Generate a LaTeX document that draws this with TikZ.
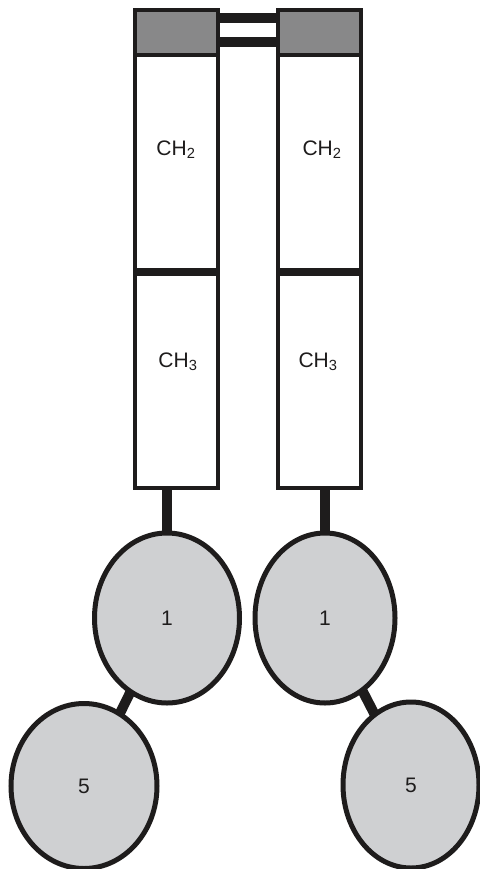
\documentclass[tikz,border=0pt]{standalone}
\usepackage{fontspec}
\setmainfont{Liberation Sans}
\usetikzlibrary{shapes.geometric}
\definecolor{capgray}{HTML}{888889}
\definecolor{ballgray}{HTML}{CFD0D2}
\definecolor{ink}{HTML}{1E1C1C}
\begin{document}
\begin{tikzpicture}[x=1pt,y=-1pt,
  cell/.style={draw=ink,line width=4pt,inner sep=0pt,outer sep=0pt,minimum width=83pt,fill=white},
  capbox/.style={cell,fill=capgray,minimum height=45pt},
  chbox/.style={cell,minimum height=216pt},
  lbl/.style={inner sep=0pt,font=\fontsize{21}{25}\selectfont,text=ink},
  ball/.style={ellipse,draw=ink,line width=5pt,fill=ballgray,inner sep=0pt,outer sep=0pt,font=\fontsize{21}{25}\selectfont,text=ink},
  bond/.style={draw=ink,line width=10pt},
  divider/.style={draw=ink,line width=8pt}]
\useasboundingbox (0,0) rectangle (479,869);
% left chain
\node[chbox] (ch2L) at (176.5,163.5) {};
\node[chbox] (ch3L) at (176.5,380) {};
\node[capbox] (capL) at (176.5,32.5) {};
% right chain
\node[chbox] (ch2R) at (319.5,163.5) {};
\node[chbox] (ch3R) at (319.5,380) {};
\node[capbox] (capR) at (319.5,32.5) {};
% labels
\node[lbl] (t2L) at (176,150) {CH\textsubscript{2}};
\node[lbl] (t3L) at (178,362) {CH\textsubscript{3}};
\node[lbl] (t2R) at (322,150) {CH\textsubscript{2}};
\node[lbl] (t3R) at (318,362) {CH\textsubscript{3}};
% dividers
\draw[divider] (ch2L.south west) -- (ch2L.south east);
\draw[divider] (ch2R.south west) -- (ch2R.south east);
% head groups
\node[ball,minimum width=145pt,minimum height=170pt] (oneL) at (167,618) {1};
\node[ball,minimum width=140pt,minimum height=170pt] (oneR) at (325,618) {1};
\node[ball,minimum width=146pt,minimum height=165pt] (fiveL) at (84,786) {5};
\node[ball,minimum width=136pt,minimum height=166pt] (fiveR) at (411,785) {5};
% bonds between caps
\draw[bond] ([yshift=14pt]capL.east) -- ([yshift=14pt]capR.west);
\draw[bond] ([yshift=-10pt]capL.east) -- ([yshift=-10pt]capR.west);
% stems
\draw[bond] (ch3L.south -| oneL.north) -- (oneL.north);
\draw[bond] (ch3R.south -| oneR.north) -- (oneR.north);
% links
\draw[bond] (oneL) -- (fiveL);
\draw[bond] (oneR) -- (fiveR);
\end{tikzpicture}
\end{document}
